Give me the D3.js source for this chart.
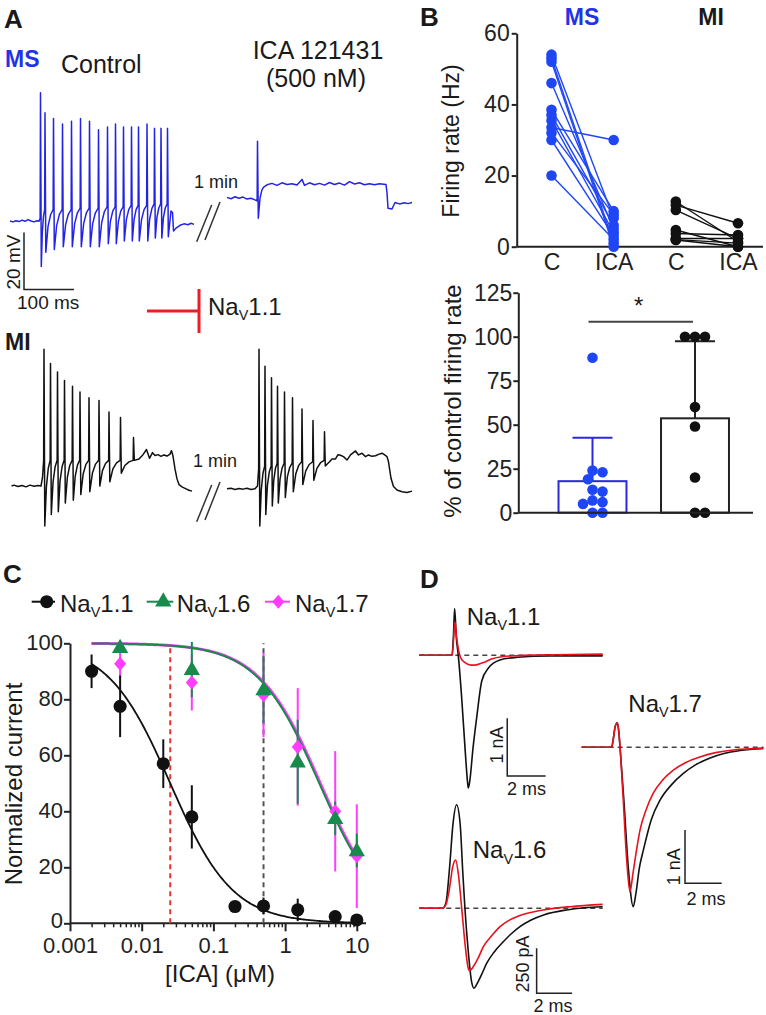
<!DOCTYPE html>
<html><head><meta charset="utf-8">
<script src="https://cdn.jsdelivr.net/npm/d3@7"></script>
<style>
body{margin:0;background:#fff;}
svg{display:block;}
</style></head><body>
<svg id="fig" width="766" height="1015"></svg>
<script>
// ================= DATA =================
// Panel A – membrane potential traces (time ms, mV). Spikes: [time, threshold, peak, trough]
const msCtrlPre = [[0,-70],[6,-70.3],[12,-69.9],[18,-70.2],[24,-69.7],[30,-70.1],[36,-69.5],[42,-70],[48,-70.3],[54,-69.9],[58,-70.1]];
const msCtrlSpikes = [
  [61,-69,-25,-86],[70,-66,-32,-81],[87,-66,-34,-80],[105,-66,-36,-79],[123,-66,-35,-79],
  [141,-65.5,-34,-79],[159,-65.5,-35,-79],[177,-65.5,-38,-79],[195,-65,-37,-78],[211,-65,-36,-78],
  [227,-65,-37,-77],[243,-64.5,-37,-77],[257,-64.5,-37,-77],[274,-64.5,-36,-77],[289,-64,-37.5,-76],
  [302,-64,-37.5,-76],[315,-64,-37.5,-75.5]];
const msCtrlPost = [[322,-66.5],[325,-67],[327,-73.5],[332,-72.5],[340,-71.5],[348,-71],[356,-71.3],[362,-70.8],[368,-71.2]];

const msIcaPre = [[0,-61.7],[8,-62.2],[16,-61.5],[24,-62],[32,-61.6],[40,-62.3],[48,-62],[56,-62.6],[60,-62.8]];
const msIcaSpikes = [[61,-63,-42,-69]];
const msIcaPost = [[66,-62],[70,-59],[74,-58],[80,-57.3],[90,-56.8],[100,-57.5],[110,-56.6],[120,-57.2],[130,-56.9],[140,-57.4],[150,-55.4],[155,-57.5],[165,-56.6],[175,-57.3],[185,-56.8],[195,-57.4],[205,-56.5],[215,-57.2],[225,-56.7],[235,-57.4],[245,-56.2],[255,-57],[265,-56.6],[275,-57.3],[285,-56.9],[295,-57.3],[305,-56.9],[318,-57.2],[320,-60],[322,-65.5],[330,-65.8],[336,-63.5],[345,-64],[355,-63.6],[362,-63.9],[370,-63.5]];

const miCtrlPre = [[3,-70],[8,-69.7],[16,-70.2],[24,-69.8],[32,-70.3],[40,-69.7],[48,-70.1],[56,-69.8],[62,-70],[65,-67]];
const miCtrlSpikes = [
  [68,-61,-22,-84],[81,-61,-27,-80],[95,-61,-30,-79],[109,-61,-33,-76],[125,-61,-35,-75],
  [140,-61,-37,-73],[158,-61,-39,-72],[178,-61,-40,-70],[198,-61,-44,-68.5],[221,-61,-46,-65.5],[247,-61,-53,-61]];
const miCtrlPost = [[258,-60.5],[266,-59],[273,-57.2],[279,-60.3],[285,-58.3],[290,-59.3],[296,-59],[302,-59.6],[308,-59.1],[314,-59.5],[320,-58.8],[323,-57.6],[326,-59.5],[330,-64],[334,-67.5],[338,-69.5],[344,-70.3],[352,-71],[358,-71.5],[364,-71.8]];

const miIcaPre = [[0,-71],[8,-70.8],[16,-71.2],[24,-70.9],[32,-71.1],[40,-70.8],[48,-71.2],[56,-71],[61,-70]];
const miIcaSpikes = [
  [64,-64,-22,-84],[76,-63,-28,-80],[89,-63,-32,-77],[101,-62,-35,-76],[115,-62,-37,-74],
  [131,-62,-39,-72],[150,-61.5,-43,-69.5],[172,-61.5,-47,-68],[195,-61,-51,-63]];
const miIcaPost = [[205,-61.5],[210,-60.5],[217,-60.5],[222,-59],[227,-59.2],[233,-59.7],[240,-60.9],[247,-59.1],[257,-57.7],[263,-59.1],[270,-58.5],[277,-59.7],[283,-59.1],[290,-59.6],[297,-59.4],[303,-58.9],[310,-58.5],[316,-59.2],[320,-59.7],[323,-61.5],[328,-67.3],[333,-70.2],[340,-71.4],[350,-72],[360,-72.3],[370,-71.8]];

// Panel B – firing rate (Hz), paired cells
const bCategories = ["MS-C","MS-ICA","MI-C","MI-ICA"];
const bTickLabels = ["C","ICA","C","ICA"];
const msC   = [54, 53, 52, 46, 38.5, 37, 35.5, 33.5, 32, 30, 20];
const msICA = [8, 1, 0, 5, 10, 6, 4, 30, 9, 3, 2];
const miC   = [12.7, 11.7, 10.3, 4.7, 3.7, 2.3, 1.9, 2.0];
const miICA = [1.4, 6.6, 2.3, 0, 3.3, 2.3, 0, 1.0];
// % of control firing rate
const msPct = [88, 24, 23, 19, 13, 12, 7, 6, 5, 0, 0];
const miPct = [100, 100, 100, 60, 49, 20, 0, 0];

// Panel C – concentration–response
const conc11 = [0.002, 0.005, 0.02, 0.05, 0.2, 0.5, 1.5, 5, 10];
const nav11Mean = [90, 77.5, 57, 38, 6, 6.2, 4.8, 2.4, 1.2];
const nav11Err  = [6, 11, 8.7, 11.3, 1, 3, 4, 1.5, 1.5];
const concB = [0.005, 0.05, 0.5, 1.5, 5, 10];
const nav16Mean = [98.6, 90.7, 83.5, 57.7, 37.5, 26];
const nav16Err  = [2, 10, 12, 15, 6, 6];
const nav17Mean = [92.7, 86, 81.5, 63, 40, 24];
const nav17Err  = [5, 10, 15, 21, 21.5, 18.5];
const fit11 = {ic50: 0.025, n: 1};
const fit16 = {ic50: 3.0, n: 1};
const fit17 = {ic50: 3.1, n: 1};
const cXTicks = [0.001, 0.01, 0.1, 1, 10];
const cXTickLabels = ["0.001","0.01","0.1","1","10"];
const cYTicks = [0, 20, 40, 60, 80, 100];
const dashIC50 = 0.025, dashConc = 0.5;

// Panel D – current traces [time ms, current]
const nav11Ctrl = [[0,0],[1.7,0],[1.78,0.35],[1.84,0.81],[1.93,0.3],[2.03,0],[2.2,-0.7],[2.4,-1.7],[2.5,-2.15],[2.55,-2.3],[2.62,-2.2],[2.8,-1.6],[3.0,-1.05],[3.25,-0.45],[3.6,-0.22],[4.2,-0.08],[5.1,-0.035],[6.8,-0.012],[9.55,-0.01]];
const nav11Ica  = [[0,0],[1.72,0],[1.79,0.3],[1.86,0.58],[1.93,0.35],[2.05,0.08],[2.15,-0.04],[2.4,-0.13],[2.7,-0.17],[2.9,-0.17],[3.3,-0.13],[3.8,-0.06],[4.3,-0.025],[5.2,-0.005],[7,0.01],[9.55,0.02]];
const nav16Ctrl = [[0,0],[1.3,0],[1.5,30],[1.7,220],[1.9,470],[2.1,575],[2.3,470],[2.45,200],[2.57,0],[2.75,-230],[2.95,-410],[3.08,-444],[3.25,-420],[3.5,-370],[3.8,-305],[4.2,-245],[4.73,-186],[5.2,-140],[5.67,-102],[6.3,-65],[7,-37],[8.3,-9],[9.3,3],[10.33,9]];
const nav16Ica  = [[0,0],[1.3,0],[1.5,20],[1.7,110],[1.88,230],[2.05,268],[2.2,190],[2.39,0],[2.6,-220],[2.75,-330],[2.84,-347],[3.0,-330],[3.3,-280],[3.61,-213],[4.1,-150],[4.55,-102],[5.0,-70],[5.49,-47],[6.2,-25],[7,-9],[8.5,9],[10.33,22]];
const nav17Ctrl = [[0,0],[1.63,0],[1.72,0.15],[1.82,0.38],[1.94,0.46],[2.02,0.3],[2.09,0],[2.3,-1.0],[2.55,-2.3],[2.81,-2.99],[2.95,-2.75],[3.15,-2.25],[3.36,-1.93],[3.8,-1.35],[4.27,-0.99],[4.9,-0.7],[5.54,-0.49],[6.2,-0.33],[7.0,-0.2],[7.8,-0.11],[8.63,-0.06],[9.9,-0.02]];
const nav17Ica  = [[0,0],[1.63,0],[1.72,0.15],[1.82,0.38],[1.94,0.46],[2.02,0.3],[2.09,0],[2.25,-0.9],[2.45,-2.1],[2.63,-2.71],[2.8,-2.35],[3.0,-1.9],[3.18,-1.55],[3.5,-1.18],[3.9,-0.86],[4.4,-0.62],[4.99,-0.43],[5.7,-0.28],[6.44,-0.18],[7.3,-0.1],[8.26,-0.05],[9.9,-0.02]];

// ================= DRAWING =================
const FONT = "'Liberation Sans', Arial, Helvetica, sans-serif";
const INK = "#1a1a1a";
const BLUE = "#2323e4", BLUE_TXT = "#1f33e8", BLUE_DOT = "#1f46f5";
const RED = "#e8121c", GREEN = "#178a4c", MAGENTA = "#ff3cff";

const svg = d3.select("#fig").attr("font-family", FONT);
svg.append("rect").attr("width",766).attr("height",1015).attr("fill","#fff");

function txt(g, x, y, s, fs, opts={}) {
  const t = g.append("text").attr("x",x).attr("y",y).attr("font-size",fs)
    .attr("fill", opts.fill||INK).text(s);
  if (opts.bold) t.attr("font-weight","bold");
  if (opts.anchor) t.attr("text-anchor",opts.anchor);
  return t;
}
function rtxt(g, x, y, s, fs) { // rotated -90, centred
  return g.append("text").attr("transform",`translate(${x},${y}) rotate(-90)`)
    .attr("text-anchor","middle").attr("font-size",fs).attr("fill",INK).text(s);
}
function navText(g, x, y, sub, fs) {
  const t = g.append("text").attr("x",x).attr("y",y).attr("font-size",fs).attr("fill",INK);
  t.append("tspan").text("Na");
  t.append("tspan").attr("font-size",fs*0.6).attr("dy",fs*0.22).text("V");
  t.append("tspan").attr("dy",-fs*0.22).text(sub);
  return t;
}
function styleAxis(g, fs) {
  g.attr("font-family",FONT).attr("font-size",fs);
  g.selectAll("path.domain").attr("stroke","#222").attr("stroke-width",2);
  g.selectAll(".tick line").attr("stroke","#222").attr("stroke-width",2);
  g.selectAll(".tick text").attr("fill","#222");
}

// ---------- Panel A ----------
const A = svg.append("g");
txt(A, 4, 28, "A", 26, {bold:true});
txt(A, 5, 66.5, "MS", 23, {bold:true, fill:BLUE_TXT});
txt(A, 61, 73, "Control", 25);
txt(A, 318, 59, "ICA 121431", 25, {anchor:"middle"});
txt(A, 316, 87, "(500 nM)", 25, {anchor:"middle"});
txt(A, 5, 350, "MI", 23, {bold:true});

function buildTrace(pre, spikes, post) {
  const pts = pre.map(d => d.slice());
  spikes.forEach((s, i) => {
    const [t, thr, pk, tr] = s;
    pts.push([t-0.7, thr], [t, pk], [t+1.6, tr]);
    const nx = spikes[i+1];
    if (nx) {
      const t0 = t+1.6, t1 = nx[0]-0.7, g = t1-t0;
      pts.push([t0+g*0.3, tr+(nx[1]-tr)*0.6], [t0+g*0.65, tr+(nx[1]-tr)*0.88]);
    }
  });
  post.forEach(d => pts.push(d.slice()));
  return pts;
}
const xCtrl = d3.scaleLinear().domain([0,100]).range([10,60]);
const xIca  = d3.scaleLinear().domain([0,100]).range([227,277]);
const yMS = d3.scaleLinear().domain([-70,-50]).range([221,164]);
const yMI = d3.scaleLinear().domain([-70,-50]).range([486,429]);
const traces = [
  [msCtrlPre, msCtrlSpikes, msCtrlPost, xCtrl, yMS, BLUE],
  [msIcaPre, msIcaSpikes, msIcaPost, xIca, yMS, BLUE],
  [miCtrlPre, miCtrlSpikes, miCtrlPost, xCtrl, yMI, "#111"],
  [miIcaPre, miIcaSpikes, miIcaPost, xIca, yMI, "#111"]];
traces.forEach(([pre, sp, post, x, y, col]) => {
  A.append("path").attr("d", d3.line().x(d=>x(d[0])).y(d=>y(d[1]))(buildTrace(pre, sp, post)))
    .attr("fill","none").attr("stroke",col).attr("stroke-width",1.5).attr("stroke-linejoin","round");
});
// scale bar 20 mV / 100 ms
A.append("path").attr("d", `M${xCtrl(28)},${yMS(-74)}V${yMS(-94)}H${xCtrl(128)}`)
  .attr("fill","none").attr("stroke","#222").attr("stroke-width",1.5);
rtxt(A, 20, 262, "20 mV", 19);
txt(A, 17, 309, "100 ms", 19);
// "1 min" breaks
txt(A, 194, 188, "1 min", 18);
txt(A, 193, 467, "1 min", 18);
[0, 280].forEach(dy => {
  A.append("path").attr("d", `M${196.7},${241.7+dy}L${211.7},${205+dy}M${205},${240+dy}L${220},${202+dy}`)
    .attr("stroke","#333").attr("stroke-width",1.5).attr("fill","none");
});
// Nav1.1 inhibition symbol
A.append("path").attr("d","M147,311H199M199,289V333").attr("stroke","#ee1c24").attr("stroke-width",3).attr("fill","none");
navText(A, 208, 315, "1.1", 24);

// ---------- Panel B (top) ----------
const B = svg.append("g");
txt(B, 420, 26, "B", 26, {bold:true});
txt(B, 582, 25, "MS", 23, {bold:true, fill:BLUE_TXT, anchor:"middle"});
txt(B, 711, 25, "MI", 23, {bold:true, anchor:"middle"});
const xB1 = d3.scalePoint().domain(bCategories).range([551.5, 738]);
const yB1 = d3.scaleLinear().domain([0,60]).range([246.7, 33.3]);
const gyB1 = B.append("g").attr("transform","translate(516.7,0)")
  .call(d3.axisLeft(yB1).tickValues([0,20,40,60]).tickSize(5).tickSizeOuter(0).tickPadding(2));
styleAxis(gyB1, 23);
B.append("line").attr("x1",516.7).attr("x2",763).attr("y1",yB1(0)).attr("y2",yB1(0)).attr("stroke","#222").attr("stroke-width",2);
const gxB1 = B.append("g").attr("transform",`translate(0,${yB1(0)})`)
  .call(d3.axisBottom(xB1).tickSize(0).tickPadding(7).tickFormat((d,i)=>bTickLabels[i]));
styleAxis(gxB1, 23); gxB1.select("path.domain").remove();
rtxt(B, 459, 141, "Firing rate  (Hz)", 23);
function pairs(cArr, iArr, kc, ki, col) {
  cArr.forEach((c,i) => B.append("line").attr("x1",xB1(kc)).attr("y1",yB1(c)).attr("x2",xB1(ki)).attr("y2",yB1(iArr[i]))
    .attr("stroke",col).attr("stroke-width",1.4));
  cArr.forEach(c => B.append("circle").attr("cx",xB1(kc)).attr("cy",yB1(c)).attr("r",5.3).attr("fill",col));
  iArr.forEach(v => B.append("circle").attr("cx",xB1(ki)).attr("cy",yB1(v)).attr("r",5.3).attr("fill",col));
}
pairs(msC, msICA, "MS-C", "MS-ICA", BLUE_DOT);
pairs(miC, miICA, "MI-C", "MI-ICA", "#111");

// ---------- Panel B (bottom) ----------
const xB2 = d3.scaleBand().domain(["MS","MI"]).range([541.25, 746.25]).paddingInner(0.337).paddingOuter(0.1685);
const yB2 = d3.scaleLinear().domain([0,125]).range([512.7, 292.7]);
const gyB2 = B.append("g").attr("transform","translate(518.3,0)")
  .call(d3.axisLeft(yB2).tickValues([0,25,50,75,100,125]).tickSize(5).tickSizeOuter(0).tickPadding(1));
styleAxis(gyB2, 23);
rtxt(B, 461, 401, "% of control firing rate", 24);
function swarm(vals, y, r) {
  const placed = [];
  return vals.map(v => {
    const yy = y(v);
    let off = 0;
    for (let k = 0; k < 400; k++) {
      const o = (k % 2 ? 1 : -1) * Math.ceil(k/2) * 0.5;
      if (placed.every(p => (p[0]-o)**2 + (p[1]-yy)**2 >= (2*r*0.92)**2)) { off = o; break; }
    }
    placed.push([off, yy]);
    return [off, yy];
  });
}
[["MS", msPct, BLUE_DOT, "#2a2ad8"], ["MI", miPct, "#111", "#222"]].forEach(([k, vals, col, stroke]) => {
  const m = d3.mean(vals), sd = d3.deviation(vals);
  const cx = xB2(k) + xB2.bandwidth()/2;
  B.append("rect").attr("x",xB2(k)).attr("y",yB2(m)).attr("width",xB2.bandwidth()).attr("height",yB2(0)-yB2(m))
    .attr("fill","#fff").attr("stroke",stroke).attr("stroke-width",2);
  B.append("path").attr("d",`M${cx},${yB2(m)}V${yB2(m+sd)}M${cx-20},${yB2(m+sd)}H${cx+20}`)
    .attr("stroke",stroke).attr("stroke-width",2).attr("fill","none");
  swarm(vals, yB2, 5.3).forEach(([o, yy]) => B.append("circle").attr("cx",cx+o).attr("cy",yy).attr("r",5.3).attr("fill",col));
});
B.append("line").attr("x1",518.3).attr("x2",753).attr("y1",yB2(0)).attr("y2",yB2(0)).attr("stroke","#222").attr("stroke-width",2);
{
  const c1 = xB2("MS") + xB2.bandwidth()/2 - 4, c2 = xB2("MI") + xB2.bandwidth()/2 - 2;
  B.append("line").attr("x1",c1).attr("x2",c2).attr("y1",yB2(108.5)).attr("y2",yB2(108.5)).attr("stroke","#444").attr("stroke-width",2);
  txt(B, (c1+c2)/2 - 2, 314, "*", 24, {anchor:"middle"});
}

// ---------- Panel C ----------
const C = svg.append("g");
txt(C, 3, 583, "C", 26, {bold:true});
const xC = d3.scaleLog().domain([0.001, 10]).range([70, 356.8]);
const yC = d3.scaleLinear().domain([0, 100]).range([923.3, 643.3]);
const gyC = C.append("g").attr("transform","translate(70,0)")
  .call(d3.axisLeft(yC).tickValues(cYTicks).tickSize(6).tickSizeOuter(0).tickPadding(1));
styleAxis(gyC, 22);
gyC.selectAll(".tick text").attr("dy", d => d === 0 ? "0.2em" : "0.3em");
const minor = [];
[0.001,0.01,0.1,1].forEach(dec => d3.range(2,10).forEach(k => minor.push(k*dec)));
const gxCm = C.append("g").attr("transform",`translate(0,${yC(0)})`)
  .call(d3.axisBottom(xC).tickValues(minor).tickSize(4).tickFormat(""));
styleAxis(gxCm, 22); gxCm.select("path.domain").remove();
gxCm.selectAll(".tick line").attr("stroke-width",1.5);
const gxC = C.append("g").attr("transform",`translate(0,${yC(0)})`)
  .call(d3.axisBottom(xC).tickValues(cXTicks).tickSize(8).tickPadding(6).tickFormat((d,i)=>cXTickLabels[i]));
styleAxis(gxC, 22); gxC.select("path.domain").remove();
C.append("line").attr("x1",70).attr("x2",366).attr("y1",yC(0)).attr("y2",yC(0)).attr("stroke","#222").attr("stroke-width",2);
rtxt(C, 22, 784, "Normalized current", 24);
const xl = C.append("text").attr("x",220).attr("y",982).attr("text-anchor","middle").attr("font-size",24).attr("fill",INK);
xl.append("tspan").text("[ICA] (");
xl.append("tspan").text("\u03BC");
xl.append("tspan").text("M)");

// dashed reference lines
C.append("line").attr("x1",xC(dashIC50)).attr("x2",xC(dashIC50)).attr("y1",yC(0)).attr("y2",yC(99.4))
  .attr("stroke","#e8352b").attr("stroke-width",2).attr("stroke-dasharray","5,4");
C.append("line").attr("x1",xC(dashConc)).attr("x2",xC(dashConc)).attr("y1",yC(0)).attr("y2",yC(100))
  .attr("stroke","#555").attr("stroke-width",2).attr("stroke-dasharray","5,4");
// fitted Hill curves
const hill = (f, x) => 100 / (1 + Math.pow(x / f.ic50, f.n));
const xsFit = d3.range(0, 201).map(i => 0.002 * Math.pow(10/0.002, i/200));
const lineC = d3.line().x(d=>xC(d[0])).y(d=>yC(d[1]));
[[fit17, MAGENTA, 3], [fit16, GREEN, 2], [fit11, "#111", 1.8]].forEach(([f, col, w]) => {
  C.append("path").attr("d", lineC(xsFit.map(x => [x, hill(f, x)]))).attr("fill","none").attr("stroke",col).attr("stroke-width",w);
});
// error bars
function errbars(xs, m, e, col) {
  xs.forEach((x,i) => { if (e[i] > 0) C.append("line").attr("x1",xC(x)).attr("x2",xC(x))
    .attr("y1",yC(m[i]-e[i])).attr("y2",yC(Math.min(m[i]+e[i],100.5))).attr("stroke",col).attr("stroke-width",2); });
}
errbars(concB, nav17Mean, nav17Err, MAGENTA);
errbars(concB, nav16Mean, nav16Err, GREEN);
errbars(conc11, nav11Mean, nav11Err, "#111");
// markers
const diamondType = { draw(ctx, size) { const h = Math.sqrt(size)*0.62, w = h*0.85;
  ctx.moveTo(0,-h); ctx.lineTo(w,0); ctx.lineTo(0,h); ctx.lineTo(-w,0); ctx.closePath(); } };
const symDiamond = d3.symbol().type(diamondType).size(130);
const symTri = d3.symbol().type(d3.symbolTriangle).size(115);
const symCirc = d3.symbol().type(d3.symbolCircle).size(135);
function markers(xs, m, sym, col, dy=0) {
  xs.forEach((x,i) => C.append("path").attr("d", sym()).attr("transform",`translate(${xC(x)},${yC(m[i])+dy})`).attr("fill",col));
}
markers(concB, nav17Mean, symDiamond, MAGENTA);
markers(concB, nav16Mean, symTri, GREEN, 1);
markers(conc11, nav11Mean, symCirc, "#111");
// legend
[[31.7,55,46.7,60,"#111",symCirc,"1.1"],[146.7,173.3,163.3,176.7,GREEN,symTri,"1.6"],[265,290,278.3,295,MAGENTA,symDiamond,"1.7"]]
  .forEach(([l1,l2,mx,tx,col,sym,sub]) => {
    C.append("line").attr("x1",l1).attr("x2",l2).attr("y1",601.7).attr("y2",601.7).attr("stroke",col).attr("stroke-width",2);
    C.append("path").attr("d",sym()).attr("transform",`translate(${mx},601.7)`).attr("fill",col);
    navText(C, tx, 611.7, sub, 24);
  });

// ---------- Panel D ----------
const D = svg.append("g");
txt(D, 420, 588, "D", 26, {bold:true});
function tracePanel(ctrl, ica, x, y, tEnd) {
  D.append("line").attr("x1",x(0)).attr("x2",x(tEnd)).attr("y1",y(0)).attr("y2",y(0))
    .attr("stroke","#444").attr("stroke-width",1.5).attr("stroke-dasharray","5,4");
  const ln = d3.line().x(d=>x(d[0])).y(d=>y(d[1])).curve(d3.curveMonotoneX);
  D.append("path").attr("d",ln(ctrl)).attr("fill","none").attr("stroke","#111").attr("stroke-width",1.6);
  D.append("path").attr("d",ln(ica)).attr("fill","none").attr("stroke",RED).attr("stroke-width",1.6);
}
const x11 = d3.scaleLinear().domain([0,2]).range([419.3, 457.7]);
const y11 = d3.scaleLinear().domain([0,1]).range([655.3, 597.6]);
tracePanel(nav11Ctrl, nav11Ica, x11, y11, 9.55);
D.append("path").attr("d",`M${x11(4.58)},${y11(-1.09)}V${y11(-2.09)}H${x11(6.58)}`).attr("fill","none").attr("stroke","#222").attr("stroke-width",1.5);
rtxt(D, 503, 745, "1 nA", 18);
txt(D, 526.5, 795, "2 ms", 18, {anchor:"middle"});
navText(D, 466.7, 625, "1.1", 24);

const x16 = d3.scaleLinear().domain([0,2]).range([419.3, 454.8]);
const y16 = d3.scaleLinear().domain([0,250]).range([908.3, 863.3]);
tracePanel(nav16Ctrl, nav16Ica, x16, y16, 10.33);
D.append("path").attr("d",`M${x16(6.61)},${y16(-222)}V${y16(-472)}H${x16(8.61)}`).attr("fill","none").attr("stroke","#222").attr("stroke-width",1.5);
rtxt(D, 529, 964, "250 pA", 18);
txt(D, 553, 1012, "2 ms", 18, {anchor:"middle"});
navText(D, 472.7, 858.3, "1.6", 24);

const x17 = d3.scaleLinear().domain([0,2]).range([581.7, 618.4]);
const y17 = d3.scaleLinear().domain([0,1]).range([747.3, 694]);
tracePanel(nav17Ctrl, nav17Ica, x17, y17, 9.9);
D.append("path").attr("d",`M${x17(5.63)},${y17(-1.55)}V${y17(-2.55)}H${x17(7.63)}`).attr("fill","none").attr("stroke","#222").attr("stroke-width",1.5);
rtxt(D, 680, 866.7, "1 nA", 18);
txt(D, 706, 905, "2 ms", 18, {anchor:"middle"});
navText(D, 628.3, 711.7, "1.7", 24);
</script>
</body></html>
